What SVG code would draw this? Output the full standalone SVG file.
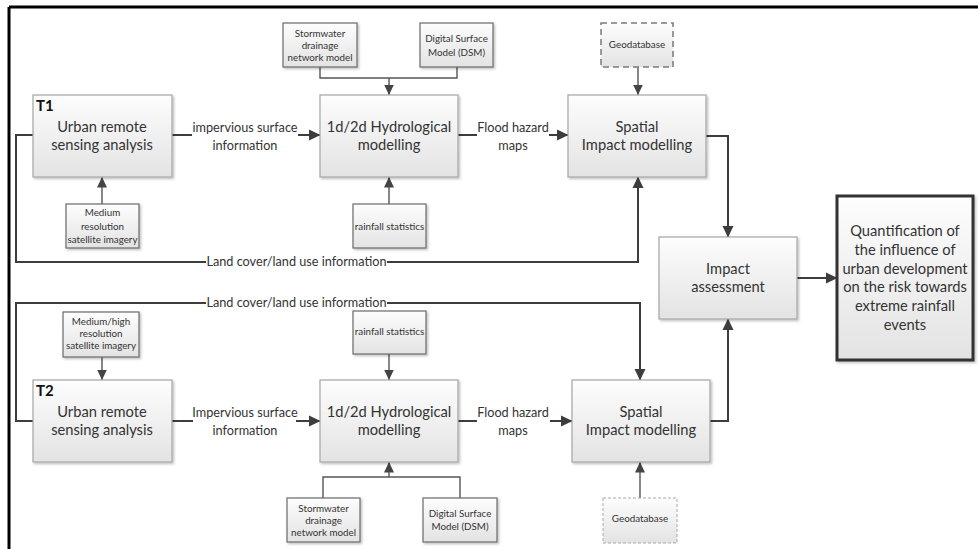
<svg xmlns="http://www.w3.org/2000/svg" width="978" height="549" viewBox="0 0 978 549">
<style>
  text { font-family: Lato, "Open Sans", "Liberation Sans", sans-serif; fill: #333; text-anchor: middle; }
  .main { font-size: 14.7px; }
  .lbl { font-size: 12.7px; }
  .sm { font-size: 9.8px; }
  .tag { font-size: 15px; font-weight: bold; text-anchor: start; fill: #111; }
  .box { fill: url(#g); stroke: #a6a6a6; stroke-width: 1.2; filter: url(#sh); }
  .sbox { fill: url(#g); stroke: #6a6a6a; stroke-width: 1.2; filter: url(#sh); }
  .dbox1 { fill: url(#g); stroke: #7a7a7a; stroke-width: 1.5; stroke-dasharray: 6 4; }
  .dbox2 { fill: url(#g); stroke: #aaa; stroke-width: 1; stroke-dasharray: 3 2; }
  .qbox { fill: url(#g); stroke: #333; stroke-width: 3; filter: url(#sh); }
  .c { fill: none; stroke: #3d3d3d; stroke-width: 2; }
  .cs { fill: none; stroke: #555; stroke-width: 1.4; }
  .ca { fill: none; stroke: #3d3d3d; stroke-width: 2; marker-end: url(#ah); }
  .csa { fill: none; stroke: #555; stroke-width: 1.4; marker-end: url(#ahs); }
</style>
<defs>
  <linearGradient id="g" x1="0" y1="0" x2="0" y2="1">
    <stop offset="0" stop-color="#fdfdfd"/>
    <stop offset="1" stop-color="#e3e3e3"/>
  </linearGradient>
  <filter id="sh" x="-10%" y="-10%" width="125%" height="130%">
    <feDropShadow dx="1.5" dy="1.5" stdDeviation="1" flood-color="#000" flood-opacity="0.25"/>
  </filter>
  <marker id="ah" markerUnits="userSpaceOnUse" markerWidth="12" markerHeight="12" viewBox="0 0 12 12" refX="11" refY="6" orient="auto">
    <path d="M0,0.5 L11.5,6 L0,11.5 Z" fill="#3d3d3d"/>
  </marker>
  <marker id="ahs" markerUnits="userSpaceOnUse" markerWidth="11" markerHeight="11" viewBox="0 0 11 11" refX="10.5" refY="5.5" orient="auto">
    <path d="M0,0.5 L10.5,5.5 L0,10.5 Z" fill="#444"/>
  </marker>
</defs>

<rect width="978" height="549" fill="#fff"/>
<g id="frame">
  <line x1="9" y1="7" x2="978" y2="7" stroke="#000" stroke-width="3"/>
  <line x1="9" y1="7" x2="9" y2="549" stroke="#000" stroke-width="3"/>
</g>

<g id="connectors">
  <!-- T1 -->
  <path class="c" d="M172,135 H192"/>
  <path class="ca" d="M298,135 H320"/>
  <path class="c" d="M458,135 H477"/>
  <path class="ca" d="M549,135 H568"/>
  <path class="c" d="M33,135 H16 V262 H206"/>
  <path class="ca" d="M387,262 H638 V177"/>
  <path class="ca" d="M706,136 H728 V237"/>
  <path class="ca" d="M797,278 H837"/>
  <path class="csa" d="M102,204 V177"/>
  <path class="csa" d="M389,204 V177"/>
  <path class="cs" d="M320,67 V78 H457 V67"/>
  <path class="csa" d="M389,78 V95"/>
  <path class="csa" d="M638,67 V95"/>
  <!-- T2 -->
  <path class="c" d="M172,421 H193"/>
  <path class="ca" d="M296,421 H320"/>
  <path class="c" d="M458,421 H477"/>
  <path class="ca" d="M550,421 H572"/>
  <path class="c" d="M33,421 H16 V303 H206"/>
  <path class="ca" d="M387,303 H640 V380"/>
  <path class="ca" d="M710,421 H728 V319"/>
  <path class="csa" d="M102,357 V380"/>
  <path class="csa" d="M389,354 V380"/>
  <path class="cs" d="M323,498 V477 H460 V498"/>
  <path class="csa" d="M389,477 V462"/>
  <path class="csa" d="M640,498 V462"/>
  <!-- connector labels -->
  <text class="lbl" x="245" y="132">impervious surface</text>
  <text class="lbl" x="245" y="150">information</text>
  <text class="lbl" x="513" y="132">Flood hazard</text>
  <text class="lbl" x="513" y="150">maps</text>
  <text class="lbl" x="296.5" y="266">Land cover/land use information</text>
  <text class="lbl" x="245" y="417">Impervious surface</text>
  <text class="lbl" x="245" y="435">information</text>
  <text class="lbl" x="513" y="417">Flood hazard</text>
  <text class="lbl" x="513" y="435">maps</text>
  <text class="lbl" x="296.5" y="307">Land cover/land use information</text>
</g>

<g id="ursa1">
  <rect class="box" x="33" y="95" width="139" height="82"/>
  <text class="tag" x="36" y="111">T1</text>
  <text class="main" x="102" y="132">Urban remote</text>
  <text class="main" x="102" y="150">sensing analysis</text>
</g>
<g id="medres1">
  <rect class="sbox" x="66" y="204" width="73" height="44"/>
  <text class="sm" x="102.5" y="216">Medium</text>
  <text class="sm" x="102.5" y="230">resolution</text>
  <text class="sm" x="102.5" y="243">satellite imagery</text>
</g>
<g id="hydro1">
  <rect class="box" x="320" y="95" width="138" height="82"/>
  <text class="main" x="389" y="132">1d/2d Hydrological</text>
  <text class="main" x="389" y="150">modelling</text>
</g>
<g id="storm1">
  <rect class="sbox" x="283" y="23" width="74" height="44"/>
  <text class="sm" x="320" y="37">Stormwater</text>
  <text class="sm" x="320" y="49">drainage</text>
  <text class="sm" x="320" y="61">network model</text>
</g>
<g id="dsm1">
  <rect class="sbox" x="420" y="23" width="73" height="44"/>
  <text class="sm" x="456.5" y="42">Digital Surface</text>
  <text class="sm" x="456.5" y="56">Model (DSM)</text>
</g>
<g id="rain1">
  <rect class="sbox" x="353" y="204" width="73" height="44"/>
  <text class="sm" x="389.5" y="230">rainfall statistics</text>
</g>
<g id="spatial1">
  <rect class="box" x="568" y="95" width="138" height="82"/>
  <text class="main" x="637" y="132">Spatial</text>
  <text class="main" x="637" y="150">Impact modelling</text>
</g>
<g id="geo1">
  <rect class="dbox1" x="601" y="23" width="72" height="44"/>
  <text class="sm" x="637" y="48">Geodatabase</text>
</g>

<g id="impact">
  <rect class="box" x="659" y="237" width="138" height="82"/>
  <text class="main" x="728" y="274">Impact</text>
  <text class="main" x="728" y="292">assessment</text>
</g>
<g id="quant">
  <rect class="qbox" x="837" y="196" width="136" height="164"/>
  <text class="main" x="905" y="236">Quantification of</text>
  <text class="main" x="905" y="255">the influence of</text>
  <text class="main" x="905" y="274">urban development</text>
  <text class="main" x="905" y="292">on the risk towards</text>
  <text class="main" x="905" y="311">extreme rainfall</text>
  <text class="main" x="905" y="330">events</text>
</g>

<g id="ursa2">
  <rect class="box" x="33" y="380" width="139" height="82"/>
  <text class="tag" x="36" y="396">T2</text>
  <text class="main" x="102" y="417">Urban remote</text>
  <text class="main" x="102" y="435">sensing analysis</text>
</g>
<g id="medres2">
  <rect class="sbox" x="63" y="312" width="76" height="45"/>
  <text class="sm" x="101" y="325">Medium/high</text>
  <text class="sm" x="101" y="337">resolution</text>
  <text class="sm" x="101" y="349">satellite imagery</text>
</g>
<g id="hydro2">
  <rect class="box" x="320" y="380" width="138" height="82"/>
  <text class="main" x="389" y="417">1d/2d Hydrological</text>
  <text class="main" x="389" y="435">modelling</text>
</g>
<g id="rain2">
  <rect class="sbox" x="353" y="311" width="73" height="43"/>
  <text class="sm" x="389.5" y="335">rainfall statistics</text>
</g>
<g id="storm2">
  <rect class="sbox" x="287" y="498" width="73" height="44"/>
  <text class="sm" x="323.5" y="512">Stormwater</text>
  <text class="sm" x="323.5" y="524">drainage</text>
  <text class="sm" x="323.5" y="536">network model</text>
</g>
<g id="dsm2">
  <rect class="sbox" x="423" y="498" width="74" height="44"/>
  <text class="sm" x="460" y="517">Digital Surface</text>
  <text class="sm" x="460" y="530">Model (DSM)</text>
</g>
<g id="spatial2">
  <rect class="box" x="572" y="380" width="138" height="82"/>
  <text class="main" x="641" y="417">Spatial</text>
  <text class="main" x="641" y="435">Impact modelling</text>
</g>
<g id="geo2">
  <rect class="dbox2" x="603" y="498" width="74" height="45"/>
  <text class="sm" x="640" y="522">Geodatabase</text>
</g>
</svg>
